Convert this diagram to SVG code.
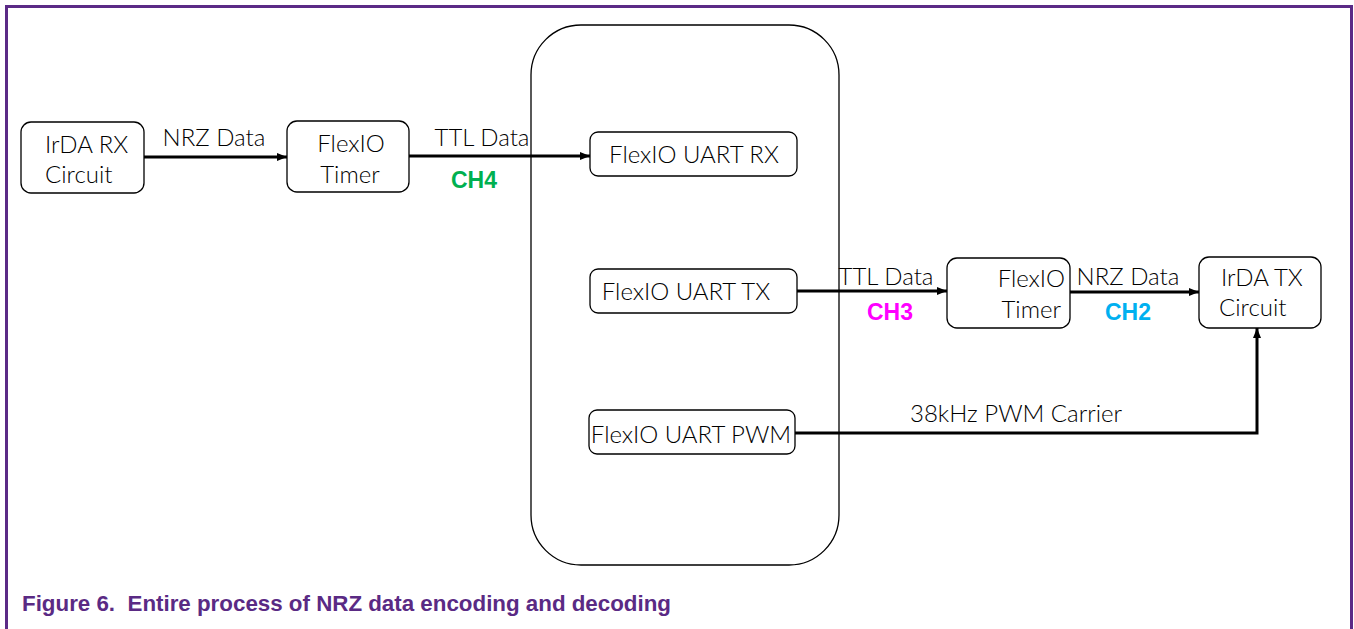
<svg xmlns="http://www.w3.org/2000/svg" width="1354" height="629" viewBox="0 0 1354 629">
<style>
.box{fill:#fff;stroke:#000;stroke-width:1.3}
.t{font-family:Lato,"Noto Sans",sans-serif;font-size:24px;font-weight:300;fill:#000}
.m{text-anchor:middle}
.e{text-anchor:end}
.lbl{font-family:Lato,"Noto Sans",sans-serif;font-size:24px;font-weight:300;fill:#000;text-anchor:middle}
.ch{font-family:"Liberation Sans",Arial,sans-serif;font-size:23px;font-weight:bold;text-anchor:middle}
.c{fill:none;stroke:#000;stroke-width:3}
</style>
<defs>
<marker id="ah" viewBox="0 0 10 10" refX="10" refY="5" markerWidth="10" markerHeight="10" markerUnits="userSpaceOnUse" orient="auto">
<path d="M0,1 L10,5 L0,9 z" fill="#000"/>
</marker>
</defs>
<rect width="1354" height="629" fill="#fff"/>
<path d="M6.5,640 V6.5 H1351.5 V640" fill="none" stroke="#5b2a86" stroke-width="3"/>
<g id="container"><rect x="531" y="25" width="308" height="540" rx="50" ry="50" class="box"/></g>
<g id="connectors">
<line x1="144" y1="157" x2="287" y2="157" class="c" marker-end="url(#ah)"/>
<line x1="409" y1="156" x2="590" y2="156" class="c" marker-end="url(#ah)"/>
<line x1="797" y1="291" x2="947" y2="291" class="c" marker-end="url(#ah)"/>
<line x1="1070" y1="292" x2="1199" y2="292" class="c" marker-end="url(#ah)"/>
<polyline points="795,433 1257,433 1257,328" class="c" marker-end="url(#ah)"/>
<text class="lbl" x="214" y="146">NRZ Data</text>
<text class="lbl" x="482" y="146">TTL Data</text>
<text class="ch" x="474" y="188" fill="#00b050">CH4</text>
<text class="lbl" x="886" y="285">TTL Data</text>
<text class="ch" x="890" y="320" fill="#ff00ff">CH3</text>
<text class="lbl" x="1128" y="285">NRZ Data</text>
<text class="ch" x="1128" y="320" fill="#00b0f0">CH2</text>
<text class="lbl" x="1016" y="422">38kHz PWM Carrier</text>
</g>
<g id="irda-rx"><rect x="21" y="122" width="123" height="71" rx="10" class="box"/>
<text class="t" x="45" y="153">IrDA RX</text><text class="t" x="45" y="183">Circuit</text></g>
<g id="timer1"><rect x="287" y="121" width="122" height="71" rx="10" class="box"/>
<text class="t m" x="351" y="152">FlexIO</text><text class="t m" x="350" y="183">Timer</text></g>
<g id="uart-rx"><rect x="590" y="132" width="207" height="44" rx="8" class="box"/>
<text class="t m" x="694" y="163">FlexIO UART RX</text></g>
<g id="uart-tx"><rect x="590" y="269" width="207" height="44" rx="8" class="box"/>
<text class="t m" x="686" y="300">FlexIO UART TX</text></g>
<g id="uart-pwm"><rect x="589" y="410" width="206" height="44" rx="8" class="box"/>
<text class="t m" x="691" y="443">FlexIO UART PWM</text></g>
<g id="timer2"><rect x="947" y="258" width="123" height="70" rx="10" class="box"/>
<text class="t e" x="1065" y="287">FlexIO</text><text class="t e" x="1061" y="318">Timer</text></g>
<g id="irda-tx"><rect x="1199" y="257" width="122" height="71" rx="10" class="box"/>
<text class="t" x="1221" y="286">IrDA TX</text><text class="t" x="1219" y="316">Circuit</text></g>
<text x="22" y="611" xml:space="preserve" style="white-space:pre" font-family="'Liberation Sans',Arial,sans-serif" font-size="22" font-weight="bold" fill="#5a2a84" textLength="649" lengthAdjust="spacingAndGlyphs">Figure 6.  Entire process of NRZ data encoding and decoding</text>
</svg>
